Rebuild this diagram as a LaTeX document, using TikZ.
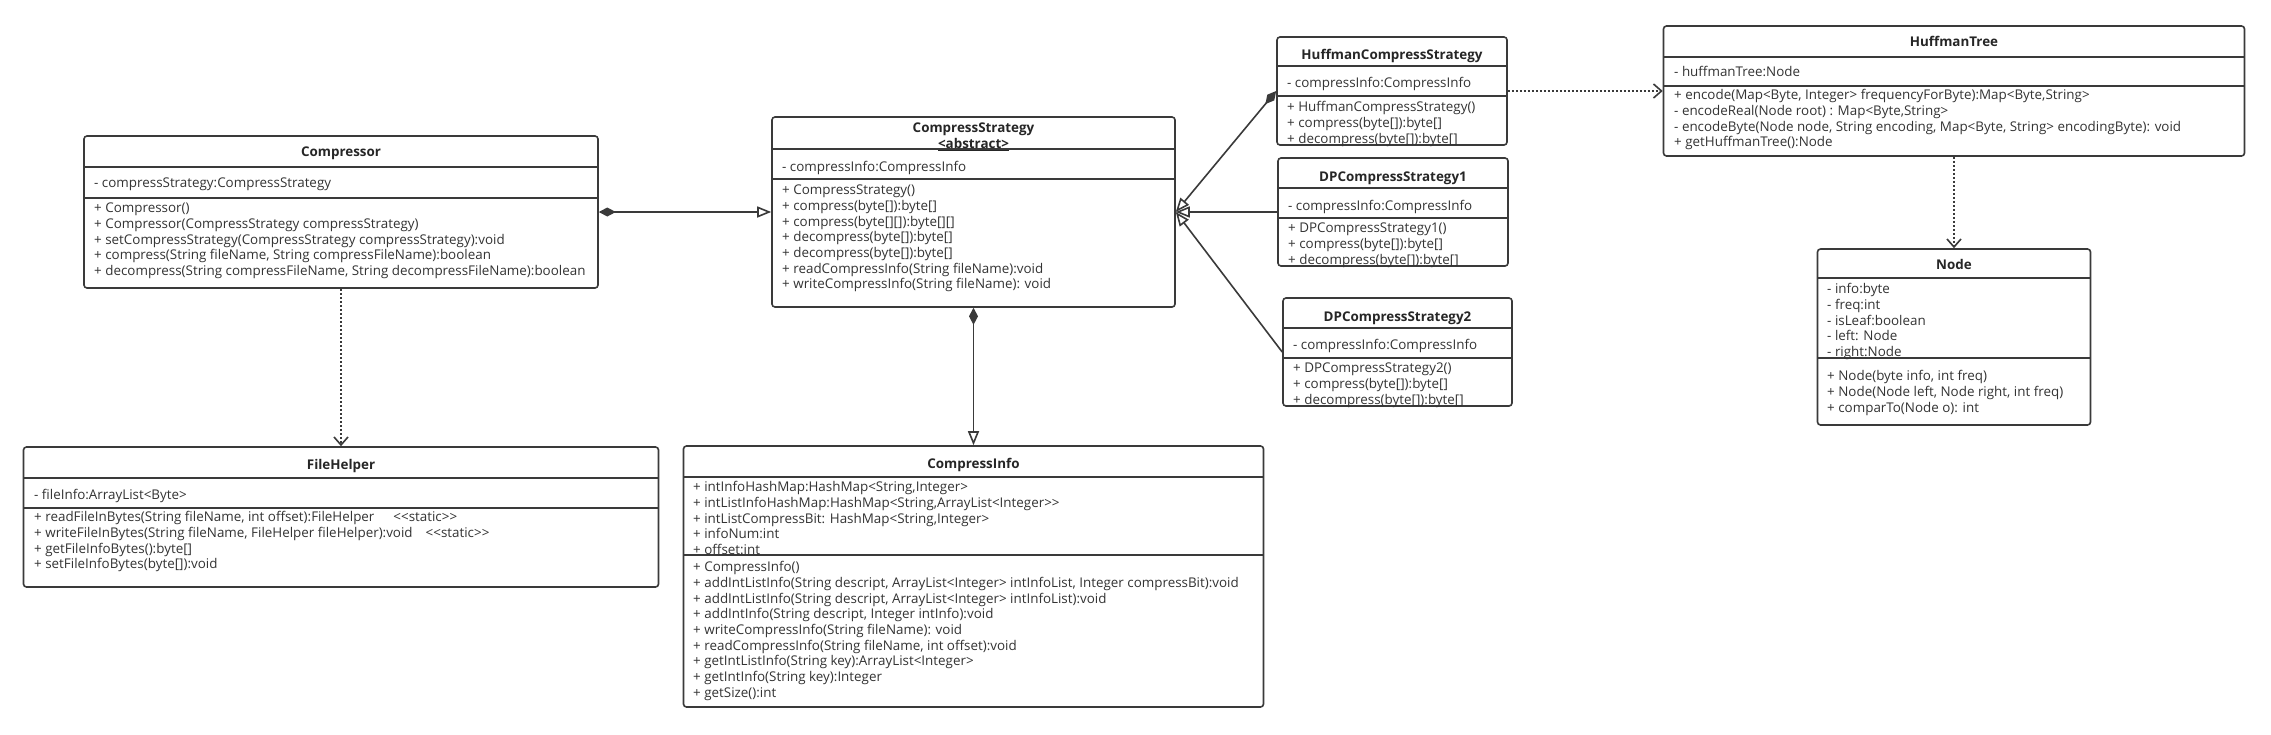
\documentclass[tikz,border=0pt]{standalone}
\usepackage{fontspec}
\newfontfamily\umlfont{Open Sans}
\usetikzlibrary{arrows.meta}
\definecolor{umlline}{HTML}{3A3A3A}
\definecolor{umltext}{HTML}{333333}
\begin{document}
\begin{tikzpicture}[x=1pt,y=-1pt,
  classbox/.style={draw=umlline, line width=1.6pt, rounded corners=3pt, fill=white, inner sep=0pt},
  sepline/.style={draw=umlline, line width=1.6pt},
  membertxt/.style={text=umltext, inner sep=0pt, font=\umlfont\fontsize{13.4}{15.7}\selectfont},
  titletxt/.style={text=black!85, inner sep=0pt, font=\umlfont\fontsize{13.4}{15.7}\selectfont\bfseries},
  compos/.style={draw=umlline, line width=1.6pt, {Diamond[length=17pt,width=9pt]}-{Triangle[open,length=14pt,width=11pt]}},
  inherit/.style={draw=umlline, line width=1.6pt, -{Triangle[open,length=14pt,width=11pt]}},
  depend/.style={draw=umlline, line width=1.6pt, dash pattern=on 2pt off 2pt, -{Straight Barb[length=8pt,width=14pt]}}]
\fill[white] (0,0) rectangle (2271,734);
\useasboundingbox (0,0) rectangle (2271,734);
\node[classbox, minimum width=514pt, minimum height=152pt] (comp) at (341,212) {};
\draw[sepline] (84,167) -- (598,167);
\draw[sepline] (84,198) -- (598,198);
\node[titletxt, anchor=base] (compT) at (341,156.5) {Compressor};
\node[membertxt, anchor=base west] (compA) at (94,187.5) {- compressStrategy:CompressStrategy};
\node[membertxt, align=left, anchor=north west] (compM) at (94,201.5) {\strut + Compressor()\\+ Compressor(CompressStrategy compressStrategy)\\+ setCompressStrategy(CompressStrategy compressStrategy):void\\+ compress(String fileName, String compressFileName):boolean\\+ decompress(String compressFileName, String decompressFileName):boolean};
\node[classbox, minimum width=403pt, minimum height=190pt] (cstrat) at (973.5,212) {};
\draw[sepline] (772,149) -- (1175,149);
\draw[sepline] (772,179) -- (1175,179);
\node[titletxt, align=center, anchor=north] (cstratT) at (973.5,121.5) {\strut CompressStrategy\\\underline{<abstract>}};
\node[membertxt, anchor=base west] (cstratA) at (782,171.5) {- compressInfo:CompressInfo};
\node[membertxt, align=left, anchor=north west] (cstratM) at (782,183.5) {\strut + CompressStrategy()\\+ compress(byte[]):byte[]\\+ compress(byte[][]):byte[][]\\+ decompress(byte[]):byte[]\\+ decompress(byte[]):byte[]\\+ readCompressInfo(String fileName):void\\+ writeCompressInfo(String fileName): void};
\node[classbox, minimum width=230pt, minimum height=108pt] (hstrat) at (1392,91) {};
\draw[sepline] (1277,66) -- (1507,66);
\draw[sepline] (1277,96) -- (1507,96);
\node[titletxt, anchor=base] (hstratT) at (1392,59.5) {HuffmanCompressStrategy};
\node[membertxt, anchor=base west] (hstratA) at (1287,87.5) {- compressInfo:CompressInfo};
\node[membertxt, align=left, anchor=north west] (hstratM) at (1287,100.5) {\strut + HuffmanCompressStrategy()\\+ compress(byte[]):byte[]\\+ decompress(byte[]):byte[]};
\node[classbox, minimum width=230pt, minimum height=108pt] (dpone) at (1393,212) {};
\draw[sepline] (1278,188) -- (1508,188);
\draw[sepline] (1278,218) -- (1508,218);
\node[titletxt, anchor=base] (dponeT) at (1393,181.5) {DPCompressStrategy1};
\node[membertxt, anchor=base west] (dponeA) at (1288,210.5) {- compressInfo:CompressInfo};
\node[membertxt, align=left, anchor=north west] (dponeM) at (1288,221.5) {\strut + DPCompressStrategy1()\\+ compress(byte[]):byte[]\\+ decompress(byte[]):byte[]};
\node[classbox, minimum width=229pt, minimum height=108pt] (dptwo) at (1397.5,352) {};
\draw[sepline] (1283,328) -- (1512,328);
\draw[sepline] (1283,358) -- (1512,358);
\node[titletxt, anchor=base] (dptwoT) at (1397.5,321.5) {DPCompressStrategy2};
\node[membertxt, anchor=base west] (dptwoA) at (1293,349.5) {- compressInfo:CompressInfo};
\node[membertxt, align=left, anchor=north west] (dptwoM) at (1293,361.5) {\strut + DPCompressStrategy2()\\+ compress(byte[]):byte[]\\+ decompress(byte[]):byte[]};
\node[classbox, minimum width=581pt, minimum height=130pt] (htree) at (1954,91) {};
\draw[sepline] (1663.5,57) -- (2244.5,57);
\draw[sepline] (1663.5,86) -- (2244.5,86);
\node[titletxt, anchor=base] (htreeT) at (1954,46.5) {HuffmanTree};
\node[membertxt, anchor=base west] (htreeA) at (1674,76.5) {- huffmanTree:Node};
\node[membertxt, align=left, anchor=north west] (htreeM) at (1674,88.5) {\strut + encode(Map<Byte, Integer> frequencyForByte):Map<Byte,String>\\- encodeReal(Node root) : Map<Byte,String>\\- encodeByte(Node node, String encoding, Map<Byte, String> encodingByte): void\\+ getHuffmanTree():Node};
\node[classbox, minimum width=273pt, minimum height=176pt] (hnode) at (1954,337) {};
\draw[sepline] (1817.5,278) -- (2090.5,278);
\draw[sepline] (1817.5,358) -- (2090.5,358);
\node[titletxt, anchor=base] (hnodeT) at (1954,269.5) {Node};
\node[membertxt, align=left, anchor=north west] (hnodeA) at (1827,282.5) {\strut - info:byte\\- freq:int\\- isLeaf:boolean\\- left: Node\\- right:Node};
\node[membertxt, align=left, anchor=north west] (hnodeM) at (1827,369.5) {\strut + Node(byte info, int freq)\\+ Node(Node left, Node right, int freq)\\+ comparTo(Node o): int};
\node[classbox, minimum width=635pt, minimum height=140pt] (fhelper) at (341,517) {};
\draw[sepline] (23.5,478) -- (658.5,478);
\draw[sepline] (23.5,508) -- (658.5,508);
\node[titletxt, anchor=base] (fhelperT) at (341,469.5) {FileHelper};
\node[membertxt, anchor=base west] (fhelperA) at (34,499.5) {- fileInfo:ArrayList<Byte>};
\node[membertxt, align=left, anchor=north west] (fhelperM) at (34,510.5) {\strut + readFileInBytes(String fileName, int offset):FileHelper\hspace*{19pt}<\kern0pt<static>\kern0pt>\\+ writeFileInBytes(String fileName, FileHelper fileHelper):void\hspace*{13pt}<\kern0pt<static>\kern0pt>\\+ getFileInfoBytes():byte[]\\+ setFileInfoBytes(byte[]):void};
\node[classbox, minimum width=580pt, minimum height=261pt] (cinfo) at (973.5,576.5) {};
\draw[sepline] (683.5,477) -- (1263.5,477);
\draw[sepline] (683.5,555) -- (1263.5,555);
\node[titletxt, anchor=base] (cinfoT) at (973.5,468.5) {CompressInfo};
\node[membertxt, align=left, anchor=north west] (cinfoA) at (693,480.5) {\strut + intInfoHashMap:HashMap<String,Integer>\\+ intListInfoHashMap:HashMap<String,ArrayList<Integer>\kern0pt>\\+ intListCompressBit: HashMap<String,Integer>\\+ infoNum:int\\+ offset:int};
\node[membertxt, align=left, anchor=north west] (cinfoM) at (693,560.5) {\strut + CompressInfo()\\+ addIntListInfo(String descript, ArrayList<Integer> intInfoList, Integer compressBit):void\\+ addIntListInfo(String descript, ArrayList<Integer> intInfoList):void\\+ addIntInfo(String descript, Integer intInfo):void\\+ writeCompressInfo(String fileName): void\\+ readCompressInfo(String fileName, int offset):void\\+ getIntListInfo(String key):ArrayList<Integer>\\+ getIntInfo(String key):Integer\\+ getSize():int};
\draw[compos](comp) -- (cstrat);
\draw[compos](hstrat.west) -- (cstrat.east);
\draw[inherit](dpone) -- (cstrat);
\draw[inherit](dptwo.west) -- (cstrat.east);
\draw[compos](cstrat) -- (cinfo);
\draw[depend](comp) -- (fhelper);
\draw[depend](hstrat) -- (htree);
\draw[depend](htree) -- (hnode);
\end{tikzpicture}
\end{document}
